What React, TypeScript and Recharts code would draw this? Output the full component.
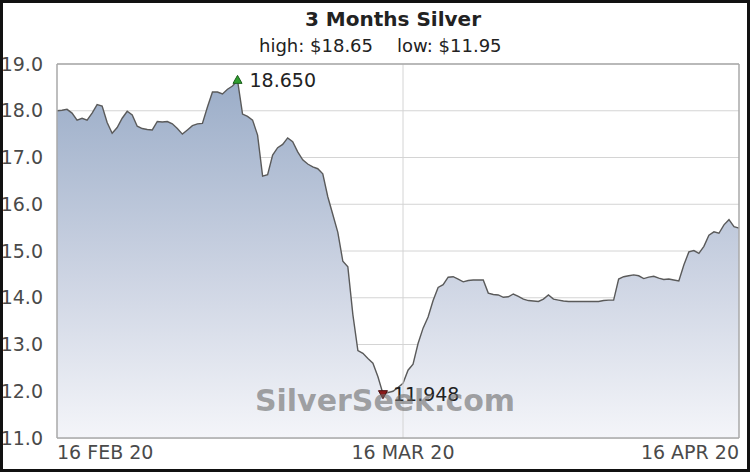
import { AreaChart, Area, XAxis, YAxis, CartesianGrid, ReferenceLine, ReferenceDot } from 'recharts'

const prices = [
  18.0, 18.01, 18.03, 17.95, 17.8, 17.84, 17.8, 17.95, 18.13, 18.1,
  17.75, 17.52, 17.64, 17.84, 17.99, 17.91, 17.67, 17.62, 17.6, 17.59,
  17.77, 17.76, 17.77, 17.72, 17.62, 17.5, 17.59, 17.68, 17.72, 17.73,
  18.08, 18.4, 18.4, 18.36, 18.46, 18.53, 18.65, 17.93, 17.88, 17.8,
  17.48, 16.6, 16.63, 17.05, 17.21, 17.28, 17.42, 17.34, 17.12, 16.95,
  16.86, 16.8, 16.76, 16.65, 16.16, 15.78, 15.4, 14.78, 14.66, 13.64,
  12.87, 12.81, 12.7, 12.6, 12.31, 11.948, 11.97, 12.0, 12.08, 12.17,
  12.45, 12.58, 13.02, 13.35, 13.59, 13.94, 14.22, 14.28, 14.44, 14.45,
  14.4, 14.34, 14.37, 14.38, 14.38, 14.38, 14.1, 14.07, 14.06, 14.01,
  14.02, 14.08, 14.03, 13.97, 13.94, 13.93, 13.92, 13.97, 14.06, 13.97,
  13.95, 13.93, 13.92, 13.92, 13.92, 13.92, 13.92, 13.92, 13.92, 13.94,
  13.95, 13.95, 14.4, 14.45, 14.47, 14.49, 14.47, 14.41, 14.44, 14.46,
  14.42, 14.39, 14.4, 14.38, 14.36, 14.7, 14.98, 15.01, 14.95, 15.1,
  15.34, 15.41, 15.38, 15.56, 15.67, 15.52, 15.49,
]

const yTicks = [11, 12, 13, 14, 15, 16, 17, 18, 19]
const xTickIndex = [0, 69, prices.length - 1]
const xTickLabels = ['16 FEB 20', '16 MAR 20', '16 APR 20']

const highValue = Math.max(...prices)
const lowValue = Math.min(...prices)
const highIndex = prices.indexOf(highValue)
const lowIndex = prices.indexOf(lowValue)

const data = prices.map((price, i) => ({ i, price }))

const font = '"DejaVu Sans", Verdana, sans-serif'

function XTick(props: any) {
  const { x, y, payload, index } = props
  const anchor = index === 0 ? 'start' : index === xTickIndex.length - 1 ? 'end' : 'middle'
  return (
    <text x={x} y={y + 13} textAnchor={anchor} fontSize={19} fill="#4a4a4a" fontFamily={font}>
      {xTickLabels[xTickIndex.indexOf(payload.value)]}
    </text>
  )
}

function HighMark(props: any) {
  const { cx, cy } = props
  return (
    <g>
      <polygon points={`${cx},${cy - 5} ${cx - 4.5},${cy + 3} ${cx + 4.5},${cy + 3}`} fill="#2f9e2f" stroke="#1b5e1b" strokeWidth={1} />
      <text x={cx + 12} y={cy + 7} fontSize={19} fill="#222" fontFamily={font}>{highValue.toFixed(3)}</text>
    </g>
  )
}

function LowMark(props: any) {
  const { cx, cy } = props
  return (
    <g>
      <polygon points={`${cx},${cy + 5} ${cx - 4.5},${cy - 3} ${cx + 4.5},${cy - 3}`} fill="#8b1a1a" stroke="#4a0d0d" strokeWidth={1} />
      <text x={cx + 10} y={cy + 7} fontSize={19} fill="#222" fontFamily={font}>{lowValue.toFixed(3)}</text>
    </g>
  )
}

export default function App() {
  return (
    <div style={{ position: 'absolute', left: 0, top: 0, width: 750, height: 472, background: '#fff' }}>
      <AreaChart width={750} height={472} data={data} margin={{ top: 64, right: 11, bottom: 0, left: 0 }}>
        <defs>
          <linearGradient id="silverFill" x1="0" y1="0" x2="0" y2="1">
            <stop offset="0%" stopColor="#9badc8" />
            <stop offset="55%" stopColor="#cdd4e3" />
            <stop offset="100%" stopColor="#f4f5f9" />
          </linearGradient>
        </defs>
        <CartesianGrid vertical={false} stroke="#d4d4d4" />
        <XAxis
          type="number"
          dataKey="i"
          domain={[0, prices.length - 1]}
          ticks={xTickIndex}
          tick={<XTick />}
          tickLine={false}
          axisLine={{ stroke: '#a8a8a8', strokeWidth: 1.5 }}
          height={34}
          interval={0}
        />
        <YAxis
          domain={[11, 19]}
          ticks={yTicks}
          width={57}
          tickLine={false}
          tickMargin={8}
          axisLine={{ stroke: '#a8a8a8', strokeWidth: 1.5 }}
          tickFormatter={(v: number) => v.toFixed(1)}
          tick={{ fontSize: 19, fill: '#4a4a4a', fontFamily: font }}
          interval={0}
        />
        <ReferenceLine x={xTickIndex[1]} stroke="#d4d4d4" />
        <Area
          type="linear"
          dataKey="price"
          stroke="#5a5a5a"
          strokeWidth={1.4}
          fill="url(#silverFill)"
          fillOpacity={1}
          baseValue={11}
          isAnimationActive={false}
        />
        <ReferenceLine y={19} stroke="#a8a8a8" strokeWidth={1.5} />
        <ReferenceLine x={prices.length - 1} stroke="#a8a8a8" strokeWidth={1.5} />
        <ReferenceDot x={highIndex} y={highValue} shape={<HighMark />} />
        <ReferenceDot x={lowIndex} y={lowValue} shape={<LowMark />} />
      </AreaChart>
      <svg width={750} height={472} style={{ position: 'absolute', left: 0, top: 0, pointerEvents: 'none' }}>
        <text x={393} y={26} textAnchor="middle" fontSize={20} fontWeight="bold" fill="#222" fontFamily={font}>3 Months Silver</text>
        <text x={259} y={52} fontSize={18} fill="#222" fontFamily={font}>high: ${highValue.toFixed(2)}</text>
        <text x={397} y={52} fontSize={18} fill="#222" fontFamily={font}>low: ${lowValue.toFixed(2)}</text>
        <text x={385} y={411} textAnchor="middle" fontSize={30} fontWeight="bold" fill="#6a6a6a" fillOpacity={0.6} fontFamily={font}>SilverSeek.com</text>
      </svg>
      <div style={{ position: 'absolute', left: 0, top: 0, width: 750, height: 472, boxSizing: 'border-box', border: '3px solid #111', pointerEvents: 'none' }} />
    </div>
  )
}
